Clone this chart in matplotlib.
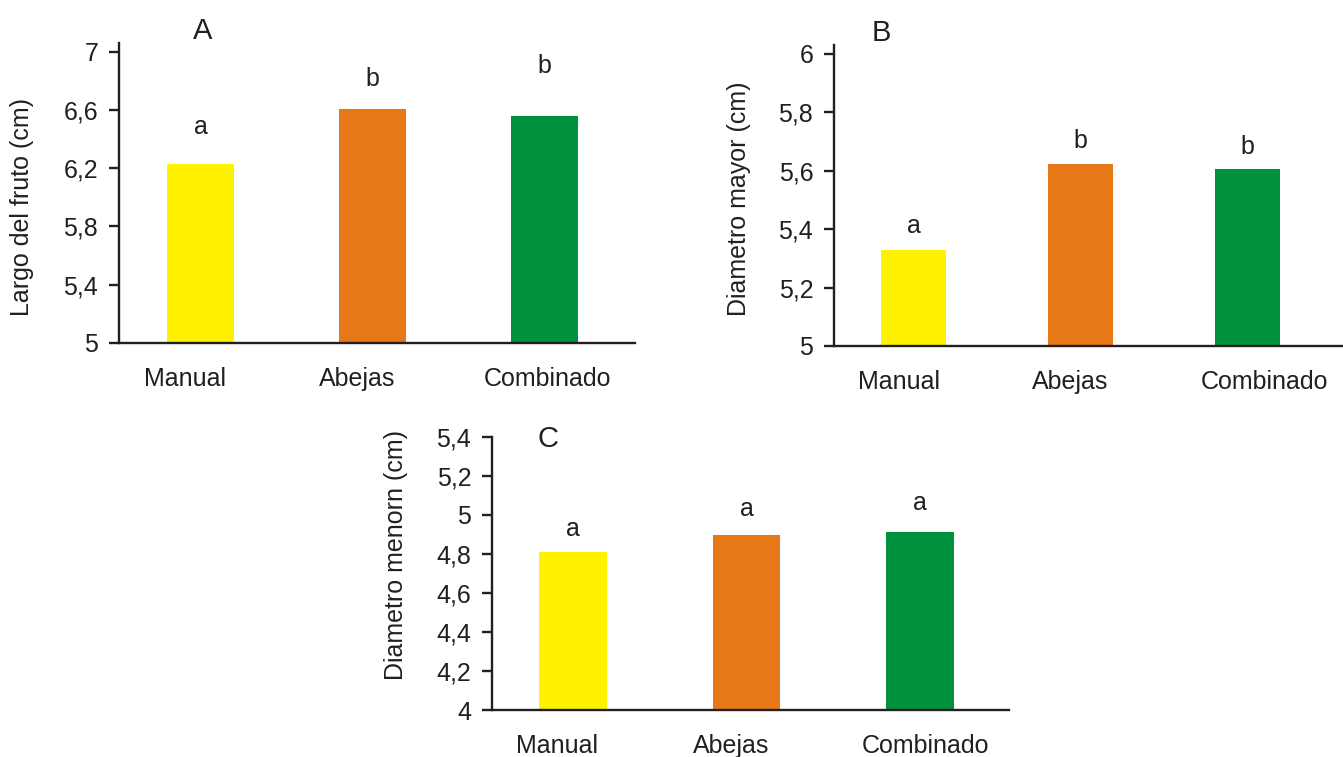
import matplotlib
matplotlib.use('Agg')
import matplotlib.pyplot as plt
import numpy as np

plt.rcParams['font.family'] = ['Liberation Sans', 'DejaVu Sans']

# data
groups = ['Manual', 'Abejas', 'Combinado']
colors = ['#FFF200', '#E77818', '#00913F']

largo = [6.23, 6.61, 6.56]          # A
largo_letters = ['a', 'b', 'b']
largo_letter_y = [6.48, 6.81, 6.90]
largo_ticks = [5, 5.4, 5.8, 6.2, 6.6, 7]

mayor = [5.33, 5.624, 5.607]        # B
mayor_letters = ['a', 'b', 'b']
mayor_letter_y = [5.41, 5.70, 5.68]
mayor_ticks = [5, 5.2, 5.4, 5.6, 5.8, 6]

menor = [4.81, 4.90, 4.913]         # C
menor_letters = ['a', 'a', 'a']
menor_letter_y = [4.93, 5.03, 5.06]
menor_ticks = [4, 4.2, 4.4, 4.6, 4.8, 5, 5.2, 5.4]

ink = '#231f20'
fs = 18

fig = plt.figure(figsize=(13.43, 7.57), dpi=100)


def panel(rect, vals, letters, letter_y, ticks, ylim, xlim, ylabel, ylab_xy,
          title, title_xy, label_shift):
    ax = fig.add_axes(rect)
    x = np.arange(len(groups))
    ax.bar(x, np.array(vals) - ylim[0], bottom=ylim[0], width=0.39,
           color=colors, zorder=1)
    for xi, l, ly in zip(x, letters, letter_y):
        ax.text(xi, ly, l, ha='center', va='center', fontsize=fs, color=ink)
    ax.set_ylim(*ylim)
    ax.set_xlim(*xlim)
    ax.set_yticks(ticks)
    ax.set_yticklabels([('%g' % t).replace('.', ',') for t in ticks])
    ax.set_xticks(x + np.array(label_shift))
    ax.set_xticklabels(groups)
    ax.tick_params(axis='x', length=0, pad=17, labelsize=fs, colors=ink)
    ax.tick_params(axis='y', direction='out', length=7, width=1.7, pad=8,
                   labelsize=fs, colors=ink)
    for s in ['top', 'right']:
        ax.spines[s].set_visible(False)
    for s in ['left', 'bottom']:
        ax.spines[s].set_linewidth(1.7)
        ax.spines[s].set_color(ink)
        ax.spines[s].set_zorder(3)
    ax.text(ylab_xy[0], ylab_xy[1], ylabel, transform=ax.transAxes,
            rotation=90, ha='center', va='center', fontsize=fs, color=ink)
    ax.text(title_xy[0], title_xy[1], title, ha='center', va='center',
            fontsize=21, color=ink, clip_on=False)
    return ax


panel([119/1343, 414/757, 516/1343, 300/757], largo, largo_letters,
      largo_letter_y, largo_ticks, (5, 7.06), (-0.474, 2.526),
      'Largo del fruto (cm)', (-0.188, 0.453), 'A', (0.01, 7.14),
      [-0.09, -0.09, 0.02])

panel([834/1343, 411/757, 509/1343, 301/757], mayor, mayor_letters,
      mayor_letter_y, mayor_ticks, (5, 6.03), (-0.476, 2.57),
      'Diametro mayor (cm)', (-0.187, 0.488), 'B', (-0.19, 6.07),
      [-0.09, -0.06, 0.1])

panel([492/1343, 47/757, 517/1343, 273/757], menor, menor_letters,
      menor_letter_y, menor_ticks, (4, 5.4), (-0.467, 2.513),
      'Diametro menorn (cm)', (-0.186, 0.568), 'C', (-0.144, 5.39),
      [-0.09, -0.09, 0.03])

fig.savefig('out.png', dpi=100)
